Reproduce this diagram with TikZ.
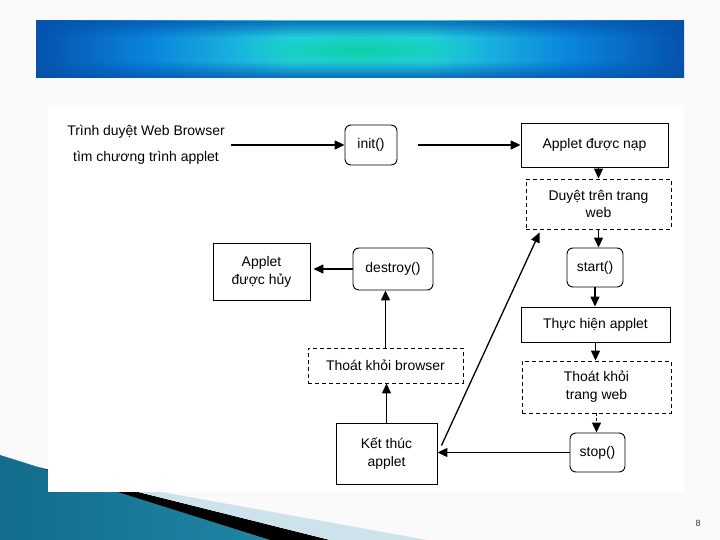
\documentclass[tikz,border=0pt]{standalone}
\usepackage{fontspec}
\setmainfont{Liberation Sans}
\usetikzlibrary{arrows.meta, positioning, calc, fadings}
\definecolor{slidebg}{HTML}{FAFAFA}
\definecolor{bandedge}{HTML}{0552AC}
\definecolor{bandside}{HTML}{0A86DC}
\definecolor{bandmid}{HTML}{24D2E0}
\definecolor{bandglow}{HTML}{0ECFA6}
\definecolor{swoopdark}{HTML}{136C8B}
\definecolor{swooplight}{HTML}{4BB3D4}
\definecolor{swoopmid}{HTML}{1F86A6}
\definecolor{swooppale}{HTML}{CDE2EB}
\pgfdeclarehorizontalshading{bandshade}{100bp}{color(0bp)=(bandedge); color(25bp)=(bandedge);
  color(34bp)=(bandside); color(45bp)=(bandmid); color(55bp)=(bandmid);
  color(66bp)=(bandside); color(75bp)=(bandedge); color(100bp)=(bandedge)}
\tikzfading[name=glowfade, inner color=transparent!0, outer color=transparent!100]

\begin{document}
\begin{tikzpicture}[
    x=1bp, y=-1bp,
    every node/.style={font=\fontsize{14}{18}\selectfont, align=center, inner sep=0pt},
    solidbox/.style={draw, line width=0.9bp},
    callbox/.style={draw, line width=0.9bp, rounded corners=6bp},
    dashbox/.style={draw, line width=0.9bp, dash pattern=on 4bp off 3bp},
    flow/.style={line width=1.3bp, -{Triangle[length=10bp, width=9bp]}},
  ]
  \useasboundingbox (0,0) rectangle (720,540);
  \fill[slidebg] (0,0) rectangle (720,540);

  \shade[left color=swoopdark, middle color=swooplight, right color=swoopmid]
    (0,455) -- (270,540) -- (0,540) -- cycle;
  \fill[black] (38,467) -- (330,540) -- (270,540) -- cycle;
  \fill[swooppale] (79,477) -- (427,540) -- (330,540) -- cycle;
  \fill[white] (48,105) rectangle (684,492);

  \shade[shading=bandshade] (36,21) rectangle (684,78);
  \fill[bandglow, path fading=glowfade] (360,50) ellipse [x radius=130, y radius=18];
  \foreach \i in {0,...,7} {
    \fill[bandedge, opacity=0.09*(8-\i)] (36,21+2*\i) rectangle (684,23+2*\i);
    \fill[bandedge, opacity=0.09*(8-\i)] (36,76-2*\i) rectangle (684,78-2*\i);
  }

  \node (find) at (146,145) {Trình duyệt Web Browser\\[8bp]tìm chương trình applet};
  \node[callbox, minimum width=52bp, minimum height=40bp] (init) at (371,145) {init()};
  \node[solidbox, minimum width=147bp, minimum height=44bp] (loaded) at (594.5,145) {Applet được nạp};
  \node[dashbox, minimum width=145bp, minimum height=50bp] (browse) at (598.5,204) {Duyệt trên trang\\web};
  \node[callbox, minimum width=56bp, minimum height=39bp] (start) at (595,267.5) {start()};
  \node[solidbox, minimum width=149bp, minimum height=35bp] (run) at (595.5,324.5) {Thực hiện applet};
  \node[dashbox, minimum width=149bp, minimum height=52bp] (leavepage) at (596.5,387) {Thoát khỏi\\trang web};
  \node[callbox, minimum width=55bp, minimum height=39bp] (stop) at (597.5,452.5) {stop()};
  \node[solidbox, minimum width=101bp, minimum height=61bp] (finish) at (386.5,453.5) {Kết thúc\\applet};
  \node[dashbox, minimum width=155bp, minimum height=35bp] (leavebrowser) at (385.5,365.5) {Thoát khỏi browser};
  \node[callbox, minimum width=80bp, minimum height=42bp] (destroy) at (393,269) {destroy()};
  \node[solidbox, minimum width=97bp, minimum height=57bp] (unloaded) at (261.5,271.5) {Applet\\được hủy};
  \node[font=\fontsize{9}{10}\selectfont, text=black!80] (pageno) at (698,523) {8};

  \coordinate (backfrom) at ($(finish.east)+(4,-8)$);
  \coordinate (backto) at ($(browse.south west)+(14,3)$);

  \draw[flow, shorten <=6bp] (find.east) -- (init.west);
  \draw[flow, shorten <=21bp] (init.east) -- (loaded.west);
  \draw[flow] (browse.north |- loaded.south) -- (browse.north);
  \draw[flow] (browse.south) -- (browse.south |- start.north);
  \draw[flow] (start.south) -- (start.south |- run.north);
  \draw[flow] (run.south) -- (run.south |- leavepage.north);
  \draw[flow, dash pattern=on 3bp off 2bp] (leavepage.south) -- (leavepage.south |- stop.north);
  \draw[flow] (stop.west) -- (stop.west -| finish.east);
  \draw[flow] (finish.north) -- (finish.north |- leavebrowser.south);
  \draw[flow] (leavebrowser.north) -- (leavebrowser.north |- destroy.south);
  \draw[flow, shorten >=3bp] (destroy.west) -- (destroy.west -| unloaded.east);
  \draw[flow] (backfrom) -- (backto);
\end{tikzpicture}
\end{document}
